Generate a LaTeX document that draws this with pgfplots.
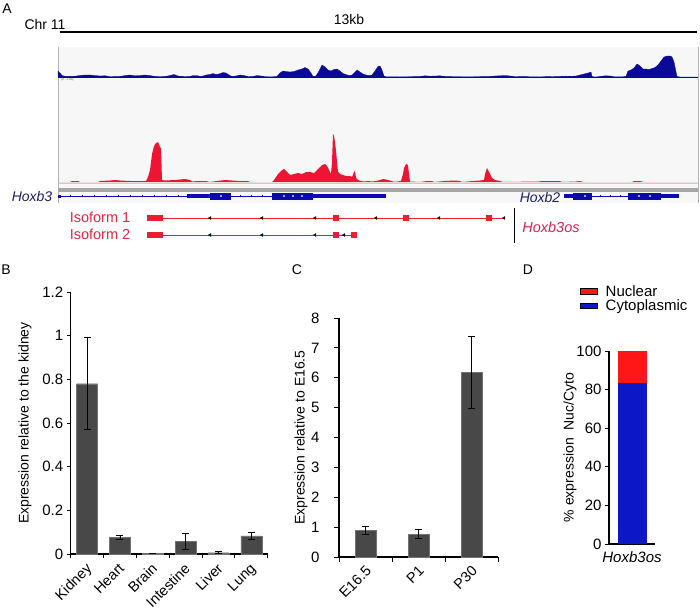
\documentclass[border=0pt]{standalone}
\usepackage{pgfplots}
\pgfplotsset{compat=1.18}
\usepackage{fontspec}
\setmainfont{Liberation Sans}
\newcommand\fs{\fontsize{14}{16}\selectfont}
\newcommand\fst{\fontsize{15}{17}\selectfont}
\newcommand\fsx{\fontsize{14.5}{16}\selectfont}
\newcommand\fsb{\fontsize{14.5}{16}\selectfont}
\definecolor{trackblue}{RGB}{10,10,150}
\definecolor{trackred}{RGB}{236,22,52}
\definecolor{geneblue}{RGB}{10,10,175}
\definecolor{navy}{RGB}{30,30,100}
\definecolor{isored}{RGB}{232,30,50}
\definecolor{isotext}{RGB}{226,38,64}
\definecolor{osred}{RGB}{214,34,82}
\definecolor{bargray}{RGB}{72,72,72}
\definecolor{dred}{RGB}{255,22,22}
\definecolor{dblue}{RGB}{12,24,200}
\definecolor{boxbg}{RGB}{247,247,247}
\pgfplotsset{
  /pgf/number format/assume math mode=true,
  barpanel/.style={scale only axis, anchor=south west, axis lines=left,
    axis line style={-, line width=1.3pt}, tick align=outside, major tick length=4pt,
    tick style={black, line width=1pt}, ymin=0,
    tick label style={font=\fst}, label style={font=\fs},
    ylabel style={anchor=center}},
  pix/.style={scale only axis, anchor=north west, hide axis, clip=false},
}
\begin{document}
\begin{tikzpicture}
\path[use as bounding box] (0pt,0pt) rectangle (700pt,-611pt);
% ---------------- Panel A: frame, genes, labels
\begin{axis}[pix, at={(0pt,0pt)}, width=700pt, height=611pt, xmin=0, xmax=700, ymin=-611, ymax=0]
\addplot[fill=boxbg, draw=none] coordinates {(58,-47)(698,-47)(698,-203)(58,-203)};
\addplot[black!30, line width=0.6pt] coordinates {(58,-47)(58,-203)};
\addplot[black!30, line width=0.6pt] coordinates {(698,-47)(698,-203)};
\addplot[black, line width=1.8pt] coordinates {(60,-32)(697,-32)};
\addplot[blue!75!black, line width=0.5pt] coordinates {(58,-77)(698,-77)};
\addplot[black!20, line width=0.5pt] coordinates {(58,-183)(698,-183)};
\addplot[black!35, line width=4pt] coordinates {(58,-190)(698,-190)};
% Hoxb3
\addplot[geneblue, line width=0.6pt] coordinates {(58,-196)(272,-196)};
\addplot[geneblue, line width=3pt] coordinates {(58,-196)(61,-196)};
\addplot[geneblue, line width=4pt] coordinates {(187,-196)(210,-196)};
\addplot[geneblue, line width=7pt] coordinates {(210,-196)(231,-196)};
\addplot[geneblue, line width=7pt] coordinates {(272,-196)(313,-196)};
\addplot[geneblue, line width=4pt] coordinates {(313,-196)(386,-196)};
% Hoxb2
\addplot[geneblue, line width=0.6pt] coordinates {(592,-196)(628,-196)};
\addplot[geneblue, line width=4pt] coordinates {(564,-196)(573,-196)};
\addplot[geneblue, line width=7pt] coordinates {(573,-196)(592,-196)};
\addplot[geneblue, line width=7pt] coordinates {(628,-196)(661,-196)};
\addplot[geneblue, line width=4pt] coordinates {(661,-196)(679,-196)};
\addplot[only marks, mark=|, mark size=1pt, geneblue, line width=0.4pt] coordinates {(70,-196)(82,-196)(94,-196)(106,-196)(118,-196)(130,-196)(142,-196)(154,-196)(166,-196)(178,-196)(240,-196)(251,-196)(262,-196)(600,-196)(610,-196)(620,-196)};
\addplot[only marks, mark=*, mark size=0.6pt, white] coordinates {(221,-196)(284,-196)(293,-196)(302,-196)(585,-196)(639,-196)(650,-196)};
% Isoform 1
\addplot[isored, line width=0.6pt] coordinates {(163,-218)(505,-218)};
\addplot[isored, line width=5.5pt] coordinates {(147,-218)(163,-218)};
\addplot[isored, line width=5.5pt] coordinates {(333,-218)(339,-218)};
\addplot[isored, line width=5.5pt] coordinates {(403,-218)(409,-218)};
\addplot[isored, line width=5.5pt] coordinates {(486,-218)(492,-218)};
\addplot[only marks, mark=triangle*, mark size=1.6pt, mark options={rotate=90, black}] coordinates {(210,-218)(262,-218)(315,-218)(376,-218)(439,-218)(504,-218)};
% Isoform 2
\addplot[isored, line width=0.6pt] coordinates {(163,-235)(357,-235)};
\addplot[isored, line width=5.5pt] coordinates {(147,-235)(163,-235)};
\addplot[isored, line width=5.5pt] coordinates {(333,-235)(339,-235)};
\addplot[isored, line width=5.5pt] coordinates {(351,-235)(357,-235)};
\addplot[only marks, mark=triangle*, mark size=1.6pt, mark options={rotate=90, black}] coordinates {(210,-235)(262,-235)(315,-235)(344,-235)};
\addplot[black, line width=1pt] coordinates {(514,-208)(514,-243)};
% texts
\node[font=\fs] at (axis cs:7,-9) {A};
\node[font=\fs] at (axis cs:45,-24) {Chr 11};
\node[font=\fs] at (axis cs:349,-19) {13kb};
\node[font=\fontsize{3}{3}\selectfont, black!60, anchor=west] at (axis cs:58,-80) {[0 - 1.00]};
\node[font=\fs\itshape, navy] at (axis cs:32,-196) {Hoxb3};
\node[font=\fs\itshape, navy] at (axis cs:540,-197) {Hoxb2};
\node[font=\fsb, isotext] at (axis cs:100,-217) {Isoform 1};
\node[font=\fsb, isotext] at (axis cs:100,-234) {Isoform 2};
\node[font=\fsb\itshape, osred] at (axis cs:551,-227) {Hoxb3os};
\node[font=\fs] at (axis cs:6,-270) {B};
\node[font=\fs] at (axis cs:297,-270) {C};
\node[font=\fs] at (axis cs:528,-270) {D};
\end{axis}
% ---------------- Panel A: coverage tracks
\begin{axis}[scale only axis, anchor=south west, hide axis, clip=false, at={(58pt,-77pt)}, width=640pt, height=25pt, xmin=58, xmax=698, ymin=0, ymax=25]
\addplot[fill=trackblue, draw=trackblue, line width=0.3pt] coordinates {
(58,6)(60,4)(62,1.5)(66,0.5)(75,0.8)(80,1.5)(85,2)(90,2)(95,1.5)(100,1)(105,1.3)(110,0.3)(120,0.5)(125,1.5)(130,2)(135,1.2)(140,1.5)(145,2)(150,1.5)(155,0.5)(160,0.3)(165,0.5)(170,1.5)(174,2.5)(178,1)(185,0.3)(190,0.5)(193,1.5)(197,1.5)(200,0.5)(203,1)(206,2)(210,2.5)(213,3.5)(216,2.5)(219,3)(223,4.5)(226,4)(229,2)(232,0.5)(236,1)(240,2)(244,1.5)(248,0.3)(253,0.5)(257,1.5)(261,1)(265,0.3)(272,0.2)(277,0.5)(280,4)(283,6)(286,5.5)(290,5)(294,5.5)(298,7)(302,8)(305,9.5)(308,8)(311,4)(313,0.5)(316,1)(319,6)(322,12)(325,10)(328,7)(331,6)(334,7.5)(337,8)(340,6)(343,3.5)(346,2.5)(349,1.5)(352,2)(355,5)(357,7)(360,5)(363,3)(366,2)(369,1.5)(372,2)(375,6)(378,10.5)(380,11)(382,7)(384,1)(386,0.2)(400,0.1)(420,0.5)(425,1.2)(430,0.8)(436,1)(440,1.2)(445,0.5)(455,0.3)(470,0.2)(490,0.5)(495,1)(500,1.2)(505,1.5)(510,1)(515,0.3)(525,0.5)(530,0.2)(540,0.1)(548,0.5)(552,0.3)(560,0.5)(566,0.8)(570,0.6)(576,1)(580,2)(584,3)(588,4)(591,5)(592,0.5)(595,0)(600,0.5)(605,1.2)(610,1)(614,0.2)(622,0.2)(626,0.5)(628,6)(631,7)(634,9)(637,13)(640,11)(643,8)(646,8)(649,7.5)(652,8.5)(655,9.5)(658,12)(661,16)(664,20)(667,21)(670,21)(672,20)(674,15)(676,5)(677,0.5)(680,0)(698,0)} \closedcycle;
\end{axis}
\begin{axis}[scale only axis, anchor=south west, hide axis, clip=false, at={(58pt,-182pt)}, width=640pt, height=50pt, xmin=58, xmax=698, ymin=0, ymax=50]
\addplot[fill=trackred, draw=none] coordinates {
(58,0)(70,0)(72,1)(78,1)(80,0)(98,0)(100,1)(110,1.5)(115,2)(120,1.5)(130,1)(140,1)(146,1)(148,5)(150,12)(152,28)(154,36)(156,39)(158,40)(160,35)(161,34)(162,2)(165,1.5)(175,2)(185,3)(190,2)(192,0.5)(198,1)(206,1)(210,0)(217,1)(225,2)(232,1.5)(238,1)(248,1)(250,0)(272,0)(274,2)(278,8)(282,12)(284,13)(287,10)(290,7)(294,8)(298,9)(302,8)(306,10)(310,10)(314,9)(316,11)(319,14)(322,17)(325,18)(327,16)(329,12)(331,8)(332,20)(333,48)(334,46)(335,40)(336,31)(337,20)(338,10)(340,8)(343,7)(346,6)(350,6)(352,5)(354,10)(355,11)(356,4)(358,2)(361,1)(364,0.5)(368,1)(372,0.5)(376,1)(380,2)(383,3)(386,2.5)(390,1.5)(393,0.5)(397,0.5)(401,1)(403,8)(404,14)(406,18)(408,17)(409,8)(410,0.5)(420,0)(427,1)(432,1)(434,0)(445,1)(455,1.5)(460,1)(462,0)(473,1)(480,1.5)(484,2)(485,8)(487,14)(488,12)(490,8)(492,4)(495,2)(500,1)(503,0)(539,0.5)(542,1)(560,1)(562,0)(576,0.5)(580,1)(583,0)(632,0)(634,0.8)(641,0.8)(643,0)(698,0)} \closedcycle;
\end{axis}
% ---------------- Panel B
\begin{axis}[barpanel, at={(70.7pt,-554pt)}, width=197pt, height=262pt,
  xmin=-0.5, xmax=5.5, ymax=1.2, ytick={0,0.2,0.4,0.6,0.8,1,1.2},
  x tick label as interval, xtick={-0.5,0.5,1.5,2.5,3.5,4.5,5.5},
  xticklabels={Kidney,Heart,Brain,Intestine,Liver,Lung},
  xticklabel style={rotate=45, anchor=north east, xshift=-1pt, yshift=2pt, font=\fsx},
  ylabel={Expression relative to the kidney},
  ylabel style={at={(rel axis cs:-0.232,0.5)}}]
\addplot[ybar, bar width=21pt, fill=bargray, draw=black!55, line width=0.4pt,
  error bars/.cd, y dir=both, y explicit,
  error bar style={black, line width=0.8pt},
  error mark options={rotate=90, black, mark size=3.5pt, line width=0.8pt}]
  coordinates {(0,0.78) +- (0,0.21) (1,0.076) +- (0,0.008) (2,0.002) +- (0,0) (3,0.057) +- (0,0.038) (4,0.006) +- (0,0.005) (5,0.083) +- (0,0.018)};
\end{axis}
% ---------------- Panel C
\begin{axis}[barpanel, at={(339pt,-557pt)}, width=159pt, height=239pt,
  xmin=-0.5, xmax=2.5, ymax=8, ytick={0,1,...,8}, major tick length=5pt,
  yticklabel style={xshift=-11pt},
  x tick label as interval, xtick={-0.5,0.5,1.5,2.5},
  xticklabels={E16.5,P1,P30},
  xticklabel style={rotate=45, anchor=north east, xshift=1pt, yshift=2pt, font=\fsx},
  ylabel={Expression relative to E16.5},
  ylabel style={at={(rel axis cs:-0.239,0.5)}}]
\addplot[ybar, bar width=21pt, fill=bargray, draw=black!55, line width=0.4pt,
  error bars/.cd, y dir=both, y explicit,
  error bar style={black, line width=0.8pt},
  error mark options={rotate=90, black, mark size=3.5pt, line width=0.8pt}]
  coordinates {(0,0.9) +- (0,0.13) (1,0.77) +- (0,0.14) (2,6.17) +- (0,1.2)};
\end{axis}
% ---------------- Panel D
\begin{axis}[barpanel, at={(609pt,-544pt)}, width=46pt, height=193pt,
  xmin=0, xmax=1, ymax=100, ytick={0,20,...,100},
  axis line style={-, line width=1.6pt},
  ybar stacked, bar width=29pt,
  xtick={0.5}, xticklabels={\textit{Hoxb3os}}, x tick style={draw=none},
  ylabel={\% expression\ \ Nuc/Cyto},
  ylabel style={at={(rel axis cs:-0.848,0.5)}},
  legend style={at={(-0.63,1.352)}, anchor=north west, draw=none, fill=none,
    inner sep=0pt, font=\fst, row sep=-2pt,
    /tikz/every odd column/.append style={column sep=6pt}},
  legend cell align=left, reverse legend]
\addplot[fill=dblue, draw=none, area legend] coordinates {(0.5,83.5)};
\addplot[fill=dred, draw=none, area legend] coordinates {(0.5,16.5)};
\legend{Cytoplasmic,Nuclear}
\end{axis}
\end{tikzpicture}
\end{document}
